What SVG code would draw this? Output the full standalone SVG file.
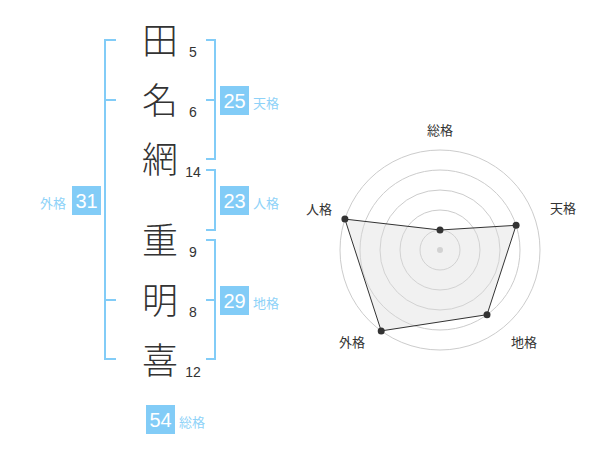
<svg xmlns="http://www.w3.org/2000/svg" width="600" height="470" viewBox="0 0 600 470">
<style>
.kanji{font-family:"Noto Sans CJK JP","Noto Sans CJK SC",sans-serif;font-size:36px;font-weight:300;fill:#333;text-anchor:middle}
.num{font-family:"Liberation Sans","Noto Sans CJK JP",sans-serif;font-size:14px;fill:#333;text-anchor:middle}
.box{fill:#82ccf7}
.boxnum{font-family:"Liberation Sans","Noto Sans CJK JP",sans-serif;font-size:20px;fill:#fff;text-anchor:middle}
.lbl{font-family:"Noto Sans CJK JP","Noto Sans CJK SC",sans-serif;font-size:13px;fill:#8ed2f8}
.br{fill:none;stroke:#82ccf7;stroke-width:2}
.ring{fill:none;stroke:#cccccc;stroke-width:1}
.rl{font-family:"Noto Sans CJK JP","Noto Sans CJK SC",sans-serif;font-size:13px;fill:#333;text-anchor:middle}
.pt{fill:#333}
</style>
<rect width="600" height="470" fill="#fff"/>
<g id="connectors">
<path class="br" d="M116,40H105V359H116M105,100H116M105,300H116"/>
<path class="br" d="M206,40H215V159H206M206,100H215"/>
<path class="br" d="M206,170H215V230H206"/>
<path class="br" d="M206,240H215V359H206M206,300H215"/>
</g>
<g id="char1"><text class="kanji" x="160" y="54">田</text><text class="num" x="193" y="57">5</text></g>
<g id="char2"><text class="kanji" x="160" y="114">名</text><text class="num" x="193" y="117">6</text></g>
<g id="char3"><text class="kanji" x="160" y="173">網</text><text class="num" x="193" y="177">14</text></g>
<g id="char4"><text class="kanji" x="160" y="254">重</text><text class="num" x="193" y="257">9</text></g>
<g id="char5"><text class="kanji" x="160" y="314">明</text><text class="num" x="193" y="317">8</text></g>
<g id="char6"><text class="kanji" x="160" y="374">喜</text><text class="num" x="193" y="377">12</text></g>
<g id="tenkaku"><rect class="box" x="220" y="86" width="29" height="29"/><text class="boxnum" x="234.5" y="108">25</text><text class="lbl" x="253" y="108">天格</text></g>
<g id="jinkaku"><rect class="box" x="220" y="186" width="29" height="29"/><text class="boxnum" x="234.5" y="208">23</text><text class="lbl" x="253" y="208">人格</text></g>
<g id="chikaku"><rect class="box" x="220" y="286" width="29" height="29"/><text class="boxnum" x="234.5" y="308">29</text><text class="lbl" x="253" y="308">地格</text></g>
<g id="gaikaku"><rect class="box" x="72" y="186" width="29" height="29"/><text class="boxnum" x="86.5" y="208">31</text><text class="lbl" x="40" y="208">外格</text></g>
<g id="soukaku"><rect class="box" x="146" y="405" width="29" height="29"/><text class="boxnum" x="160.5" y="427">54</text><text class="lbl" x="179" y="427">総格</text></g>
<g id="radar">
<circle class="ring" cx="440" cy="250" r="20"/>
<circle class="ring" cx="440" cy="250" r="40"/>
<circle class="ring" cx="440" cy="250" r="60"/>
<circle class="ring" cx="440" cy="250" r="80"/>
<circle class="ring" cx="440" cy="250" r="100"/>
<circle cx="440" cy="250" r="3" fill="#cccccc"/>
<polygon points="440,230 516.1,225.3 487,314.7 381.2,330.9 344.9,219.1" fill="#dddddd" fill-opacity="0.4" stroke="#333" stroke-width="1"/>
<circle class="pt" cx="440" cy="230" r="3.5"/>
<circle class="pt" cx="516.1" cy="225.3" r="3.5"/>
<circle class="pt" cx="487" cy="314.7" r="3.5"/>
<circle class="pt" cx="381.2" cy="330.9" r="3.5"/>
<circle class="pt" cx="344.9" cy="219.1" r="3.5"/>
<text class="rl" x="440" y="135">総格</text>
<text class="rl" x="563" y="213">天格</text>
<text class="rl" x="319" y="214">人格</text>
<text class="rl" x="352" y="347">外格</text>
<text class="rl" x="524" y="347">地格</text>
</g>
</svg>
